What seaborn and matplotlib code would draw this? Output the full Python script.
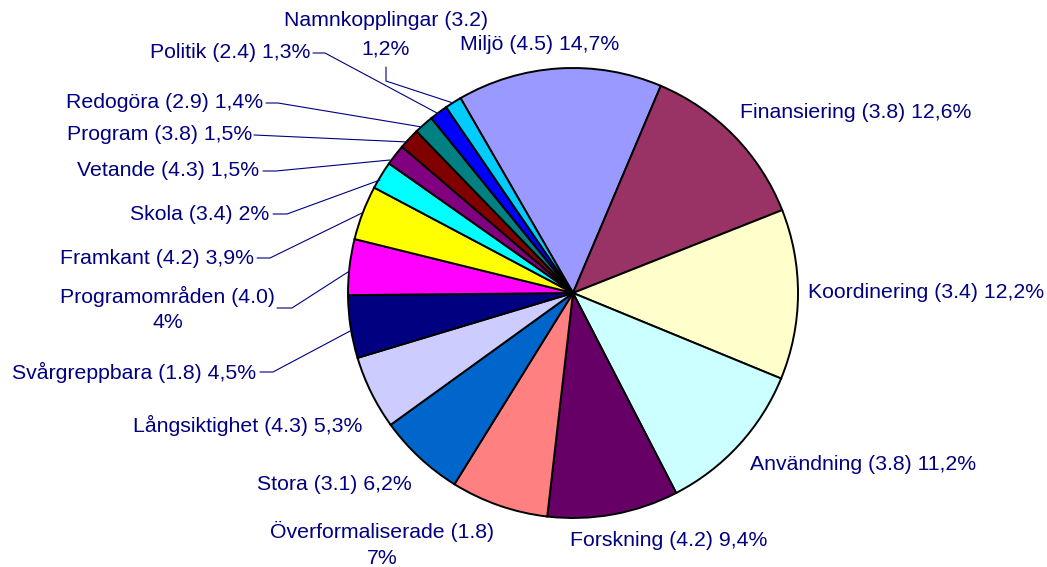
import numpy as np
import pandas as pd
import seaborn as sns
import matplotlib
matplotlib.use("Agg")
import matplotlib.pyplot as plt

# slice data, clockwise from Miljö
labels = ["Miljö", "Finansiering", "Koordinering", "Användning", "Forskning",
          "Överformaliserade", "Stora", "Långsiktighet", "Svårgreppbara",
          "Programområden", "Framkant", "Skola", "Vetande", "Program",
          "Redogöra", "Politik", "Namnkopplingar"]
scores = ["4.5", "3.8", "3.4", "3.8", "4.2", "1.8", "3.1", "4.3", "1.8",
          "4.0", "4.2", "3.4", "4.3", "3.8", "2.9", "2.4", "3.2"]
shares = [14.7, 12.6, 12.2, 11.2, 9.4, 7.0, 6.2, 5.3, 4.5, 4.0, 3.9, 2.0,
          1.5, 1.5, 1.4, 1.3, 1.2]
pct_text = ["14,7%", "12,6%", "12,2%", "11,2%", "9,4%", "7%", "6,2%", "5,3%",
            "4,5%", "4%", "3,9%", "2%", "1,5%", "1,5%", "1,4%", "1,3%", "1,2%"]
colors = ["#9999FF", "#993366", "#FFFFCC", "#CCFFFF", "#660066", "#FF8080",
          "#0066CC", "#CCCCFF", "#000080", "#FF00FF", "#FFFF00", "#00FFFF",
          "#800080", "#800000", "#008080", "#0000FF", "#00CCFF"]

# label layout in pixel coords (y from top): x, y, ha, y of second line (None = one line)
layout = {
    "Miljö": (460, 45, "left", None),
    "Finansiering": (740, 112, "left", None),
    "Koordinering": (808, 293, "left", None),
    "Användning": (750, 465, "left", None),
    "Forskning": (570, 540, "left", None),
    "Överformaliserade": (382, 531, "center", 558),
    "Stora": (412, 485, "right", None),
    "Långsiktighet": (362, 425, "right", None),
    "Svårgreppbara": (256, 372, "right", None),
    "Programområden": (168, 296, "center", 322),
    "Framkant": (254, 258, "right", None),
    "Skola": (269, 214, "right", None),
    "Vetande": (259, 170, "right", None),
    "Program": (252, 135, "right", None),
    "Redogöra": (263, 103, "right", None),
    "Politik": (310, 52, "right", None),
    "Namnkopplingar": (386, 21, "center", 49),
}
leaders = {
    "Namnkopplingar": [(386, 67), (386, 81), (453, 103)],
    "Politik": [(313, 53), (325, 53), (437, 113)],
    "Redogöra": [(266, 103), (278, 103), (422, 127)],
    "Program": [(254, 135), (408, 142)],
    "Vetande": [(263, 171), (276, 171), (390, 160)],
    "Skola": [(273, 214), (287, 214), (380, 180)],
    "Framkant": [(257, 258), (270, 258), (362, 213)],
    "Programområden": [(277, 308), (292, 308), (348, 272)],
    "Svårgreppbara": [(260, 372), (273, 372), (352, 330)],
}

W, H = 1047, 567
sns.set_theme(style="white")
plt.rcParams["font.family"] = ["Liberation Sans", "DejaVu Sans"]

fig = plt.figure(figsize=(W / 100, H / 100), dpi=100)
ax = fig.add_axes([0, 0, 1, 1])

ax.pie(shares, colors=colors, startangle=120, counterclock=False,
       center=(573, H - 293), radius=225, frame=True,
       wedgeprops=dict(edgecolor="black", linewidth=1.4))
ax.set_xlim(0, W)
ax.set_ylim(0, H)
ax.set_aspect("equal")
ax.axis("off")

navy = "#000080"
for name, sc, pt in zip(labels, scores, pct_text):
    x, y, ha, y2 = layout[name]
    if y2 is None:
        ax.text(x, H - y, f"{name} ({sc}) {pt}", ha=ha, va="center",
                fontsize=15.3, color=navy)
    else:
        ax.text(x, H - y, f"{name} ({sc})", ha=ha, va="center",
                fontsize=15.3, color=navy)
        ax.text(x, H - y2, pt, ha=ha, va="center", fontsize=15.3, color=navy)

for name, pts in leaders.items():
    xs = [p[0] for p in pts]
    ys = [H - p[1] for p in pts]
    ax.plot(xs, ys, color=navy, linewidth=0.8)

fig.savefig("out.png", dpi=100, facecolor="white")
